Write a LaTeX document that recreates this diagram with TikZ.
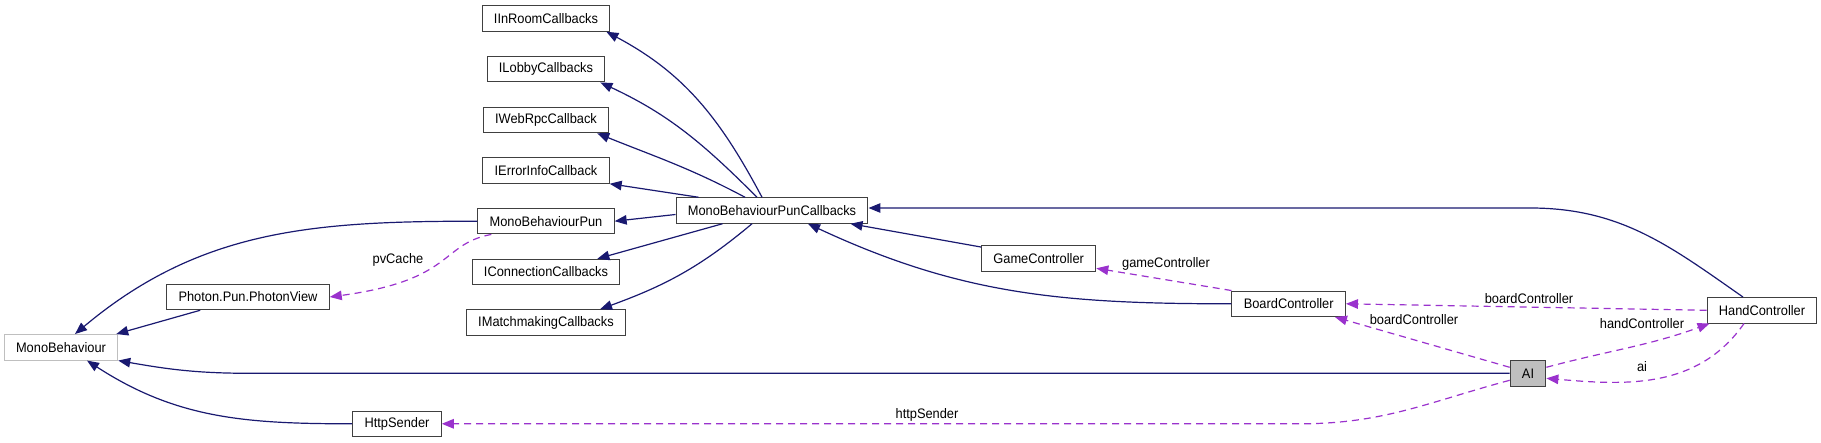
\documentclass[tikz,border=0pt]{standalone}
\usepackage{fontspec}
\setmainfont{Liberation Sans}[FakeStretch=0.93]
\usetikzlibrary{arrows.meta}
\definecolor{azulnoche}{HTML}{191970}
\definecolor{orquidea}{HTML}{9A32CD}
\definecolor{bordegris}{HTML}{404040}
\definecolor{grisclaro}{HTML}{BFBFBF}
\begin{document}
\begin{tikzpicture}[x=1pt, y=1pt, font=\fontsize{13.8}{16}\selectfont,
    clase/.style={draw=bordegris, line width=1pt, fill=white, inner xsep=11.8pt, inner ysep=0pt, minimum height=25.5pt},
    herencia/.style={draw=azulnoche, line width=1.2pt, -{Triangle[length=12pt, width=9.5pt]}},
    uso/.style={draw=orquidea, line width=1.2pt, dash pattern=on 7pt off 5pt, -{Triangle[length=12pt, width=9.5pt]}},
    etiqueta/.style={inner sep=0pt}]
  \useasboundingbox (0,0) rectangle (1821,-443);
  % las interfaces, en columna
  \node[clase] (inroom) at (546,-18.5) {IInRoomCallbacks};
  \node[clase] (lobby) at (546,-69.2) {ILobbyCallbacks};
  \node[clase] (webrpc) at (546,-120) {IWebRpcCallback};
  \node[clase] (errinfo) at (546,-170.5) {IErrorInfoCallback};
  \node[clase] (mbpun) at (546,-221.2) {MonoBehaviourPun};
  \node[clase] (conn) at (546,-272) {IConnectionCallbacks};
  \node[clase] (match) at (546,-322.5) {IMatchmakingCallbacks};
  \node[clase] (mbpc) at (772,-210.5) {MonoBehaviourPunCallbacks};
  % a la izquierda
  \node[clase, draw=grisclaro] (monob) at (61,-347.3) {MonoBehaviour};
  \node[clase] (photon) at (248,-297) {Photon.Pun.PhotonView};
  \node[clase] (https) at (397,-423.8) {HttpSender};
  % las clases del juego
  \node[clase] (gamec) at (1038.7,-258.3) {GameController};
  \node[clase] (boardc) at (1288.7,-303.8) {BoardController};
  \node[clase] (handc) at (1762,-310.3) {HandController};
  \node[clase, fill=grisclaro] (ai) at (1528,-373.3) {AI};
  % herencia hacia MonoBehaviourPunCallbacks
  \draw[herencia] ([xshift=-10pt]mbpc.north) to[out=118, in=-28] ([xshift=-4pt]inroom.south east);
  \draw[herencia] ([xshift=-15pt]mbpc.north) to[out=135, in=-25] ([xshift=-5pt]lobby.south east);
  \draw[herencia] ([xshift=-27pt]mbpc.north) to[out=152, in=-22] ([xshift=-12pt]webrpc.south east);
  \draw[herencia] ([xshift=23pt]mbpc.north west) -- (errinfo.south east);
  \draw[herencia] ([yshift=-4pt]mbpc.west) -- (mbpun.east);
  \draw[herencia] ([xshift=47pt]mbpc.south west) -- ([xshift=-23pt]conn.north east);
  \draw[herencia] ([xshift=-20pt]mbpc.south) to[out=220, in=20] ([xshift=-26pt]match.north east);
  \draw[herencia] ([xshift=-19pt]handc.north) to[out=145, in=0] (1530,-208) -- ([yshift=2.5pt]mbpc.east);
  \draw[herencia] ([yshift=-2pt]gamec.north west) -- ([xshift=-18pt]mbpc.south east);
  \draw[herencia] (boardc.west) to[out=180, in=-25] ([xshift=36pt]mbpc.south);
  % herencia hacia MonoBehaviour
  \draw[herencia] (mbpun.west) to[out=180, in=40] ([xshift=14pt]monob.north);
  \draw[herencia] ([xshift=34pt]photon.south west) -- ([xshift=-2pt]monob.north east);
  \draw[herencia] (ai.west) -- (250,-373.3) to[out=180, in=-10] (monob.south east);
  \draw[herencia] (https.west) to[out=180, in=-33] ([xshift=26pt]monob.south);
  % las relaciones de uso, con su nombre
  \draw[uso] ([xshift=14pt]mbpun.south west) .. controls (440,-244) and (455,-280) .. (photon.east);
  \draw[uso] ([yshift=-7pt]ai.west) to[out=195, in=0] (1300,-423.8) -- (https.east);
  \draw[uso] (boardc.north west) -- ([yshift=-10pt]gamec.east);
  \draw[uso] (handc.west) -- (boardc.east);
  \draw[uso] ([yshift=6pt]ai.west) -- ([xshift=-11pt]boardc.south east);
  \draw[uso] ([yshift=6pt]ai.east) to[out=15, in=-160] ([xshift=3pt]handc.south west);
  \draw[uso] ([xshift=-18pt]handc.south) to[out=-125, in=-5] ([yshift=-5pt]ai.east);
  \node[etiqueta] (lpvcache) at (398,-260) {pvCache};
  \node[etiqueta] (lhttp) at (927,-415) {httpSender};
  \node[etiqueta] (lgame) at (1166,-264) {gameController};
  \node[etiqueta] (lboardh) at (1529,-299) {boardController};
  \node[etiqueta] (lboarda) at (1414,-320) {boardController};
  \node[etiqueta] (lhand) at (1642,-324) {handController};
  \node[etiqueta] (lai) at (1642,-367) {ai};
\end{tikzpicture}
\end{document}
